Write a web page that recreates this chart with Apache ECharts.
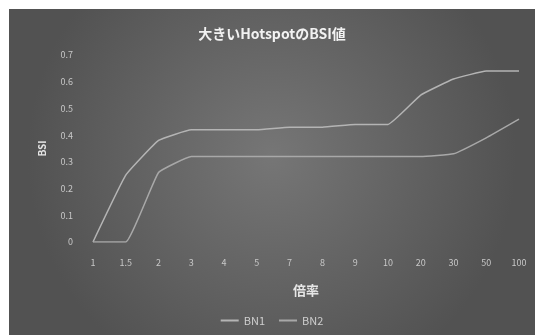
<!DOCTYPE html>
<html>
<head>
<meta charset="utf-8">
<script src="https://cdn.jsdelivr.net/npm/echarts@6/dist/echarts.min.js"></script>
<style>
  html, body { margin: 0; padding: 0; background: #ffffff; }
  #chart { position: absolute; left: 9px; top: 9px; width: 526px; height: 326px; }
</style>
</head>
<body>
<div id="chart"></div>
<script>
// Magnification steps (x axis categories)
const magnifications = ['1', '1.5', '2', '3', '4', '5', '7', '8', '9', '10', '20', '30', '50', '100'];

// BSI values per magnification
const bn1 = [0, 0.25, 0.38, 0.42, 0.42, 0.42, 0.43, 0.43, 0.44, 0.44, 0.55, 0.61, 0.64, 0.64];
const bn2 = [0, 0, 0.26, 0.32, 0.32, 0.32, 0.32, 0.32, 0.32, 0.32, 0.32, 0.33, 0.39, 0.46];

const yTicks = [0, 0.1, 0.2, 0.3, 0.4, 0.5, 0.6, 0.7];

const fontFamily = '"Noto Sans CJK JP", "Noto Sans", sans-serif';
const chart = echarts.init(document.getElementById('chart'));

chart.setOption({
  animation: false,
  backgroundColor: {
    type: 'radial', x: 0.5, y: 0.45, r: 0.75,
    colorStops: [
      { offset: 0, color: '#767676' },
      { offset: 1, color: '#525252' }
    ]
  },
  title: {
    text: '大きいHotspotのBSI値',
    left: 'center',
    top: 13,
    textStyle: { color: '#f2f2f2', fontSize: 14, fontWeight: 'bold', fontFamily }
  },
  legend: {
    bottom: 4,
    left: 'center',
    itemWidth: 18,
    itemHeight: 2,
    itemGap: 14,
    icon: 'rect',
    textStyle: { color: '#cfcfcf', fontSize: 11, fontFamily },
    data: ['BN1', 'BN2']
  },
  grid: { left: 84, right: 16, top: 46, bottom: 93 },
  xAxis: {
    type: 'category',
    data: magnifications,
    boundaryGap: false,
    name: '倍率',
    nameLocation: 'middle',
    nameGap: 42,
    nameTextStyle: { color: '#e6e6e6', fontSize: 13, fontWeight: 'bold', fontFamily },
    axisLine: { show: false },
    axisTick: { show: false },
    axisLabel: { color: '#c8c8c8', fontSize: 9, margin: 16, fontFamily, interval: 0 }
  },
  yAxis: {
    type: 'value',
    min: 0,
    max: 0.7,
    interval: 0.1,
    name: 'BSI',
    nameLocation: 'middle',
    nameGap: 46,
    nameTextStyle: { color: '#e6e6e6', fontSize: 10, fontWeight: 'bold', fontFamily },
    axisLine: { show: false },
    axisTick: { show: false },
    splitLine: { show: false },
    axisLabel: {
      color: '#c8c8c8', fontSize: 9, margin: 20, fontFamily,
      formatter: v => {
        const t = yTicks.find(k => Math.abs(k - v) < 1e-9);
        return t === undefined ? '' : String(t);
      }
    }
  },
  series: [
    {
      name: 'BN1', type: 'line', data: bn1, smooth: 0.1, symbol: 'none',
      lineStyle: { color: '#b4b4b4', width: 1.5 }, itemStyle: { color: '#b4b4b4' }
    },
    {
      name: 'BN2', type: 'line', data: bn2, smooth: 0.1, symbol: 'none',
      lineStyle: { color: '#a8a8a8', width: 1.5 }, itemStyle: { color: '#a8a8a8' }
    }
  ]
});
</script>
</body>
</html>
